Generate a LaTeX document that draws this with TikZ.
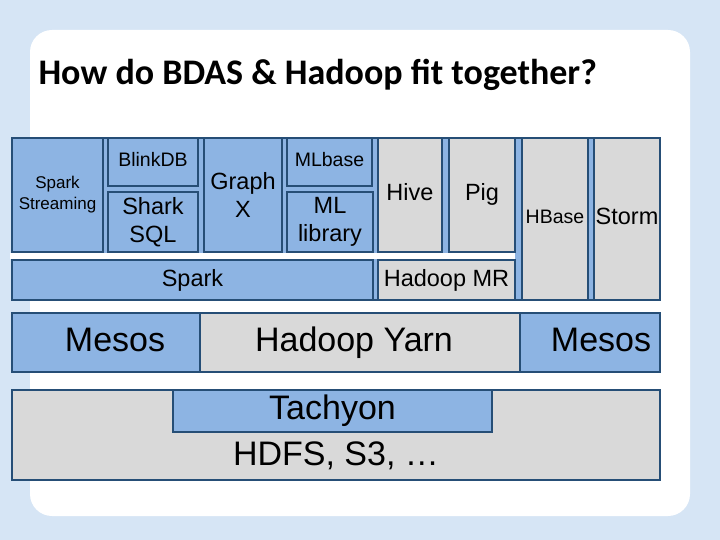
\documentclass[tikz,border=0pt]{standalone}
\usepackage{fontspec}
\setmainfont{Liberation Sans}
\newfontfamily\titlefont{Carlito}
\definecolor{pagebg}{RGB}{214,229,245}
\definecolor{layerblue}{RGB}{141,180,227}
\definecolor{layergray}{RGB}{217,217,217}
\definecolor{edgeblue}{RGB}{38,78,118}

\begin{document}
\begin{tikzpicture}[x=1pt,y=-1pt]
    \tikzstyle{layer}=[draw=edgeblue, line width=1.4pt, inner sep=0pt, outer sep=0pt, align=center]
    \tikzstyle{bluebox}=[layer, fill=layerblue]
    \tikzstyle{graybox}=[layer, fill=layergray]
    \tikzstyle{tiny}=[font=\fontsize{17}{21}\selectfont]
    \tikzstyle{small}=[font=\fontsize{19.5}{23}\selectfont, text height=14pt, text depth=4pt]
    \tikzstyle{mid}=[font=\fontsize{23.5}{27.5}\selectfont]
    \tikzstyle{midline}=[mid, text height=17pt, text depth=5pt]
    \tikzstyle{big}=[font=\fontsize{34}{38}\selectfont, text height=24.5pt, text depth=7pt]

    % page and panel
    \fill[pagebg] (0,0) rectangle (720,540);
    \useasboundingbox (0,0) rectangle (720,540);
    \fill[white, rounded corners=22pt] (30,30) rectangle (690,516);

    \node[anchor=base west, font=\titlefont\bfseries\fontsize{36}{40}\selectfont] (title) at (35,85)
    {How do BDAS \& Hadoop fit together?};

    % strips behind the upper layers
    \draw[bluebox] (12,138) rectangle (660,300);
    \fill[white] (10,252.7) rectangle (515,259.3);

    % BDAS stack
    \node[bluebox, tiny, minimum width=91pt, minimum height=114pt] (streaming) at (57.5,195)
    {Spark\\Streaming};
    \node[bluebox, small, minimum width=90pt, minimum height=48pt] (blinkdb) at (153,162) {BlinkDB};
    \node[bluebox, mid, minimum width=90pt, minimum height=60pt] (sharksql) at (153,222) {Shark\\SQL};
    \node[bluebox, mid, minimum width=78pt, minimum height=114pt] (graphx) at (243,195) {Graph\\X};
    \node[bluebox, small, minimum width=85pt, minimum height=48pt] (mlbase) at (329.5,162) {MLbase};
    \node[bluebox, mid, minimum width=86pt, minimum height=60pt] (mllib) at (330,222) {ML\\library};
    \node[bluebox, midline, minimum width=361pt, minimum height=40pt] (spark) at (192.5,280) {Spark};

    % Hadoop stack
    \node[graybox, midline, minimum width=64pt, minimum height=114pt] (hive) at (410,195) {Hive};
    \node[graybox, midline, minimum width=66pt, minimum height=114pt] (pig) at (482,195) {Pig};
    \node[graybox, midline, minimum width=137pt, minimum height=40pt] (hadoopmr) at (446.5,280) {Hadoop MR};
    \node[graybox, small, minimum width=66pt, minimum height=162pt] (hbase) at (555,219) {HBase};
    \node[graybox, midline, minimum width=66pt, minimum height=162pt] (storm) at (627,219) {Storm};

    % resource managers
    \node[bluebox, big, minimum width=188pt, minimum height=59pt] (mesosleft) at (106,342.5) {\hspace*{18pt}Mesos};
    \node[graybox, big, minimum width=320pt, minimum height=59pt] (yarn) at (360,342.5) {Hadoop Yarn\hspace*{12pt}};
    \node[bluebox, big, minimum width=140pt, minimum height=59pt] (mesosright) at (590,342.5) {\hspace*{22pt}Mesos};

    % storage
    \node[graybox, minimum width=648pt, minimum height=90pt] (hdfs) at (336,435) {};
    \node[bluebox, big, minimum width=319pt, minimum height=42pt] (tachyon) at (332.5,411) {Tachyon};
    \node[big, inner sep=0pt] (hdfstext) at (336,457) {HDFS, S3, \dots};
  \end{tikzpicture}
\end{document}
